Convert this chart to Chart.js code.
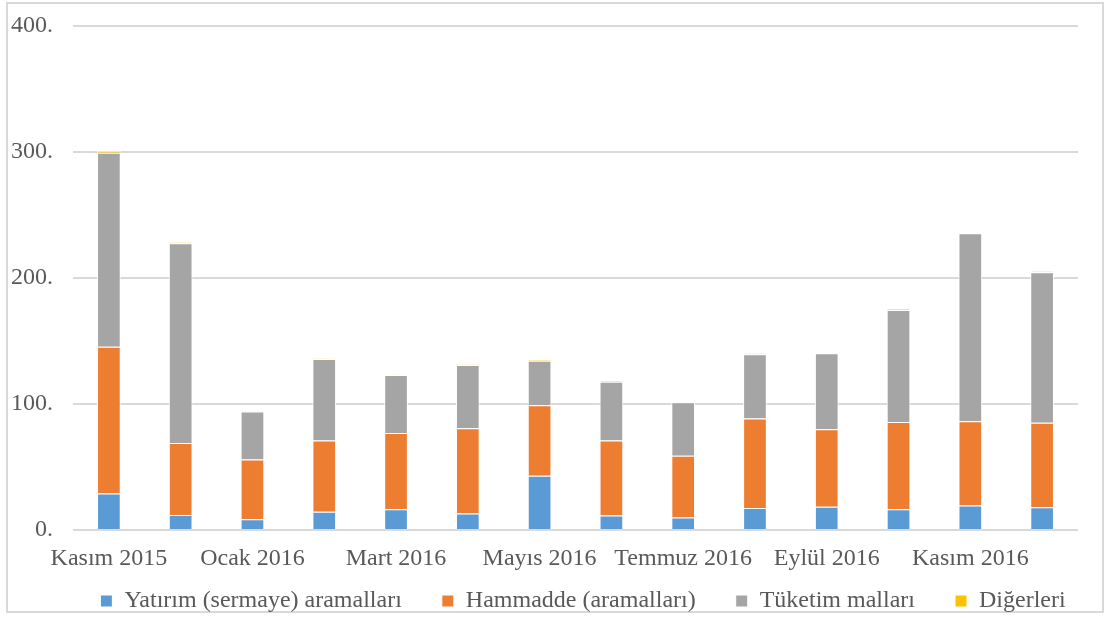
<!DOCTYPE html>
<html>
<head>
<meta charset="utf-8">
<script src="https://cdn.jsdelivr.net/npm/chart.js@4/dist/chart.umd.min.js"></script>
<style>
  body { margin: 0; background: #fff; }
  #wrap { width: 1110px; height: 621px; }
</style>
</head>
<body>
<div id="wrap"><canvas id="graph" width="1110" height="621"></canvas></div>
<script>
const months = ['Kasım 2015', 'Aralık 2015', 'Ocak 2016', 'Şubat 2016', 'Mart 2016', 'Nisan 2016',
    'Mayıs 2016', 'Haziran 2016', 'Temmuz 2016', 'Ağustos 2016', 'Eylül 2016', 'Ekim 2016',
    'Kasım 2016', 'Aralık 2016'];
const yatirim = [29, 12, 8.5, 14.5, 16.5, 13, 43, 11.5, 10, 17.5, 18.5, 16.5, 19.5, 18];
const hammadde = [116.5, 57, 47.5, 56.5, 60.5, 67.7, 56, 59.5, 49, 70.9, 61.5, 69.2, 66.8, 67.2];
const tuketim = [154, 158.5, 38, 64.7, 46, 50.3, 35.4, 46.7, 42.3, 51, 60.2, 88.9, 149.2, 119.3];
const digerleri = [1.5, 0.8, 0.5, 0.4, 0.3, 0.3, 0.8, 0.6, 0.5, 0.8, 0.3, 0.8, 0.3, 0.8];
const yTicks = [0, 100, 200, 300, 400];

const serif = "'Liberation Serif', 'Times New Roman', serif";
const textColor = '#595959';
Chart.defaults.font.family = serif;
Chart.defaults.color = textColor;

// light grey frame round the whole chart, like the office export
const framePlugin = {
    id: 'frame',
    beforeDraw(chart) {
        const c = chart.ctx;
        c.save();
        c.fillStyle = '#fff';
        c.fillRect(0, 0, chart.width, chart.height);
        c.strokeStyle = '#d9d9d9';
        c.lineWidth = 2;
        c.strokeRect(7, 3, 1096, 609);
        c.restore();
    }
};

// legend padding is big for the wide gaps between items; pull the row back up
// and nudge it right, the original legend sits off-centre
const legendShift = {
    id: 'legendShift',
    afterLayout(chart) {
        if (chart.legend) {
            chart.legend.top -= 29;
            chart.legend.left += 44;
            chart.legend.right += 44;
        }
    }
};

function barSet(label, data, color) {
    return {
        label: label,
        data: data,
        backgroundColor: color,
        borderColor: '#ffffff',
        borderWidth: 1,
        barPercentage: 0.33,
        categoryPercentage: 1
    };
}

const ctx = document.getElementById('graph').getContext('2d');
const chart = new Chart(ctx, {
    type: 'bar',
    data: {
        labels: months,
        datasets: [
            barSet('Yatırım (sermaye) aramalları', yatirim, '#5b9bd5'),
            barSet('Hammadde (aramalları)', hammadde, '#ed7d31'),
            barSet('Tüketim malları', tuketim, '#a5a5a5'),
            barSet('Diğerleri', digerleri, '#ffc000')
        ]
    },
    plugins: [framePlugin, legendShift],
    options: {
        responsive: false,
        animation: false,
        layout: { padding: { left: 0, right: 32, top: 26, bottom: 2 } },
        scales: {
            x: {
                stacked: true,
                grid: { display: false },
                border: { display: false },
                ticks: {
                    autoSkip: false,
                    maxRotation: 0,
                    padding: 6,
                    color: textColor,
                    font: { family: serif, size: 24 },
                    callback: function(value, index) {
                        return index % 2 === 0 ? months[index] : '';
                    }
                },
                afterFit: function(scale) { scale.height = 48; }
            },
            y: {
                stacked: true,
                min: 0,
                max: 400,
                afterBuildTicks: function(scale) {
                    scale.ticks = yTicks.map(v => ({ value: v }));
                },
                grid: { color: '#d9d9d9', lineWidth: 2, drawTicks: false },
                border: { display: false },
                ticks: {
                    padding: 20,
                    color: textColor,
                    font: { family: serif, size: 24 },
                    callback: function(value) { return value + '.'; }
                },
                afterFit: function(scale) {
                    scale.width = 73;
                    scale.paddingTop = 0;
                    scale.paddingBottom = 0;
                }
            }
        },
        plugins: {
            legend: {
                position: 'bottom',
                maxHeight: 41,
                labels: {
                    boxWidth: 12,
                    boxHeight: 12,
                    padding: 40,
                    color: textColor,
                    font: { family: serif, size: 24 }
                }
            },
            tooltip: { enabled: false }
        }
    }
});
</script>
</body>
</html>
